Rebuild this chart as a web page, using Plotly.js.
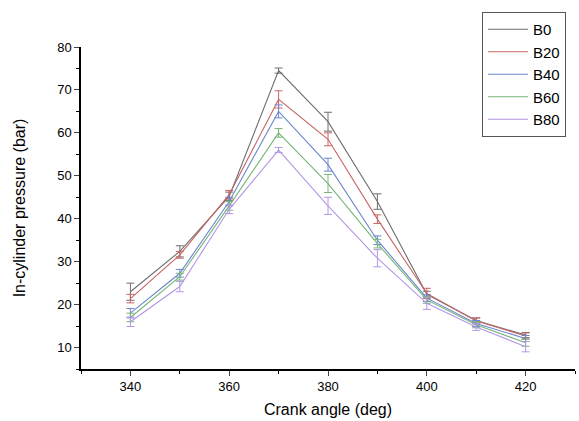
<!DOCTYPE html>
<html><head><meta charset="utf-8">
<script src="https://cdn.plot.ly/plotly-3.0.1.min.js"></script>
<style>html,body{margin:0;padding:0;background:#fff}#plot{width:579px;height:421px}</style>
</head><body><div id="plot"></div>
<script>
const crankAngle = [340, 350, 360, 370, 380, 390, 400, 410, 420];
const seriesNames = ["B0", "B20", "B40", "B60", "B80"];
const B0  = [23.0, 32.4, 45.2, 74.5, 62.6, 44.0, 22.4, 16.3, 12.9];
const B20 = [21.4, 31.6, 45.6, 67.8, 58.5, 39.9, 22.6, 16.2, 12.7];
const B40 = [18.0, 27.3, 44.0, 65.0, 52.6, 35.0, 21.5, 15.6, 12.1];
const B60 = [17.0, 26.5, 43.0, 60.0, 48.2, 34.2, 21.1, 15.3, 11.1];
const B80 = [16.0, 24.2, 42.2, 56.0, 43.0, 30.8, 20.3, 14.8, 10.2];
const B0err  = [2.0, 1.3, 1.0, 0.6, 2.2, 1.8, 0.7, 0.6, 0.6];
const B20err = [1.0, 0.8, 1.0, 2.0, 1.5, 1.0, 1.2, 0.7, 0.7];
const B40err = [1.1, 0.9, 1.0, 1.5, 1.5, 1.0, 0.8, 0.7, 0.7];
const B60err = [1.0, 0.8, 1.0, 1.0, 2.1, 1.0, 0.8, 0.7, 0.8];
const B80err = [1.1, 1.2, 1.0, 0.6, 2.0, 2.0, 1.4, 0.8, 1.2];
const colors = ["#6e6e6e", "#c86464", "#6a86cc", "#78b478", "#b496e6"];

const ys = [B0, B20, B40, B60, B80];
const errs = [B0err, B20err, B40err, B60err, B80err];
const traces = seriesNames.map((n, i) => ({
  x: crankAngle, y: ys[i], name: n, type: 'scatter', mode: 'lines',
  line: {color: colors[i], width: 1.1},
  error_y: {type: 'data', array: errs[i], visible: true, color: colors[i], thickness: 1, width: 4}
}));

const legendLeft = (482 - 81) / 494;
const legendTop = 1 + (47 - 12) / 322;
const layout = {
  width: 579, height: 421,
  margin: {l: 81, r: 4, t: 47, b: 52, autoexpand: false},
  paper_bgcolor: '#fff', plot_bgcolor: '#fff',
  font: {family: 'Liberation Sans, Arial, sans-serif', color: '#000'},
  showlegend: true,
  legend: {x: legendLeft, xanchor: 'left', y: legendTop, yanchor: 'top',
           bordercolor: '#555', borderwidth: 1, bgcolor: '#fff',
           font: {size: 15, color: '#000'}, tracegroupgap: 0, itemwidth: 40},
  xaxis: {
    range: [330, 430], dtick: 20, tick0: 340, ticks: 'outside', ticklen: 5, tickwidth: 1,
    showline: true, linecolor: '#000', linewidth: 1.5, showgrid: false, zeroline: false,
    tickfont: {size: 13}, minor: {dtick: 10, ticks: 'outside', ticklen: 3, tickcolor: '#000'},
    title: {text: 'Crank angle (deg)', font: {size: 16}, standoff: 10}
  },
  yaxis: {
    range: [5, 80], dtick: 10, tick0: 0, ticks: 'outside', ticklen: 5, tickwidth: 1,
    showline: true, linecolor: '#000', linewidth: 1.5, showgrid: false, zeroline: false,
    tickfont: {size: 13}, minor: {dtick: 5, ticks: 'outside', ticklen: 3, tickcolor: '#000'},
    title: {text: 'In-cylinder pressure (bar)', font: {size: 16}, standoff: 28}
  }
};
Plotly.newPlot('plot', traces, layout, {displayModeBar: false});
</script></body></html>
